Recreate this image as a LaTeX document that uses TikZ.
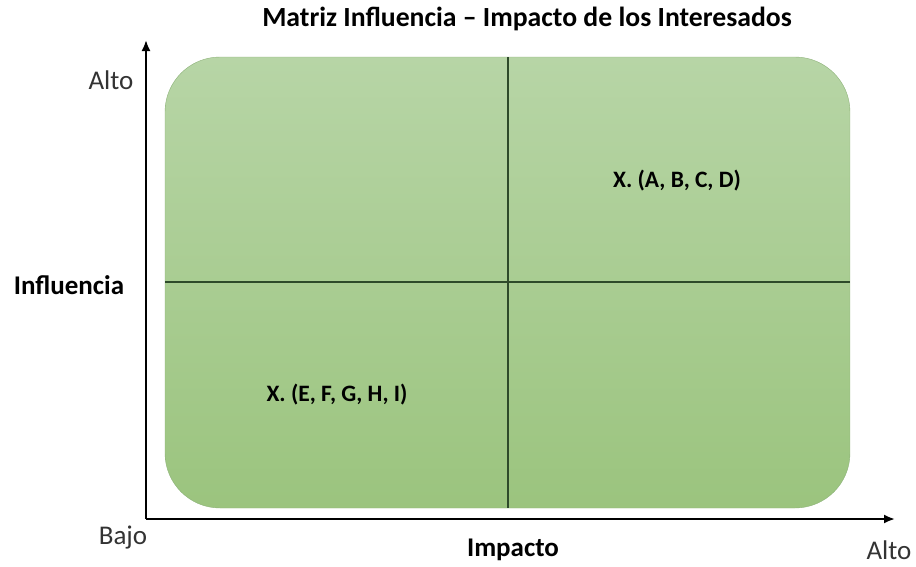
\documentclass[tikz,border=0pt]{standalone}
\usepackage{fontspec}
\setmainfont{Carlito}
\usetikzlibrary{arrows.meta}

\definecolor{gtop}{HTML}{B7D5A6}
\definecolor{gbot}{HTML}{9BC47E}
\definecolor{gedge}{HTML}{8DB279}
\definecolor{gline}{HTML}{2E4A2A}

\tikzset{
  axis/.style={line width=2pt, -{Latex[length=11pt,width=9pt]}},
  lbl/.style={font=\fontsize{27}{32}\selectfont, text=black!80},
  blbl/.style={font=\fontsize{27}{32}\selectfont\bfseries},
  quad/.style={font=\fontsize{23.5}{28}\selectfont\bfseries}
}

\begin{document}
\begin{tikzpicture}[x=1pt, y=-1pt]
\useasboundingbox (0, 0) rectangle (916, 566);

\draw[gedge, top color=gtop, bottom color=gbot, rounded corners=55pt] (165, 57) rectangle (850, 508);
\draw[gline, line width=1.3pt] (508, 57) -- (508, 508);
\draw[gline, line width=1.3pt] (165, 282) -- (850, 282);

\coordinate (o) at (146, 519);
\coordinate (ytop) at (146, 40);
\coordinate (xend) at (895, 519);
\draw[axis] (o) -- (ytop);
\draw[axis] (o) -- (xend);

\node[blbl] (title) at (527, 19) {\fontsize{27.7}{32}\selectfont Matriz Influencia -- Impacto de los Interesados};
\node[lbl] (yhi) at (111, 80) {Alto};
\node[lbl] (ylo) at (123, 538) {Bajo};
\node[lbl] (xhi) at (889, 550) {Alto};
\node[blbl] (ylab) at (69, 285) {Influencia};
\node[blbl] (xlab) at (513, 550) {Impacto};
\node[quad] (q1) at (677, 181) {X. (A, B, C, D)};
\node[quad] (q3) at (337, 395) {X. (E, F, G, H, I)};
\end{tikzpicture}
\end{document}
